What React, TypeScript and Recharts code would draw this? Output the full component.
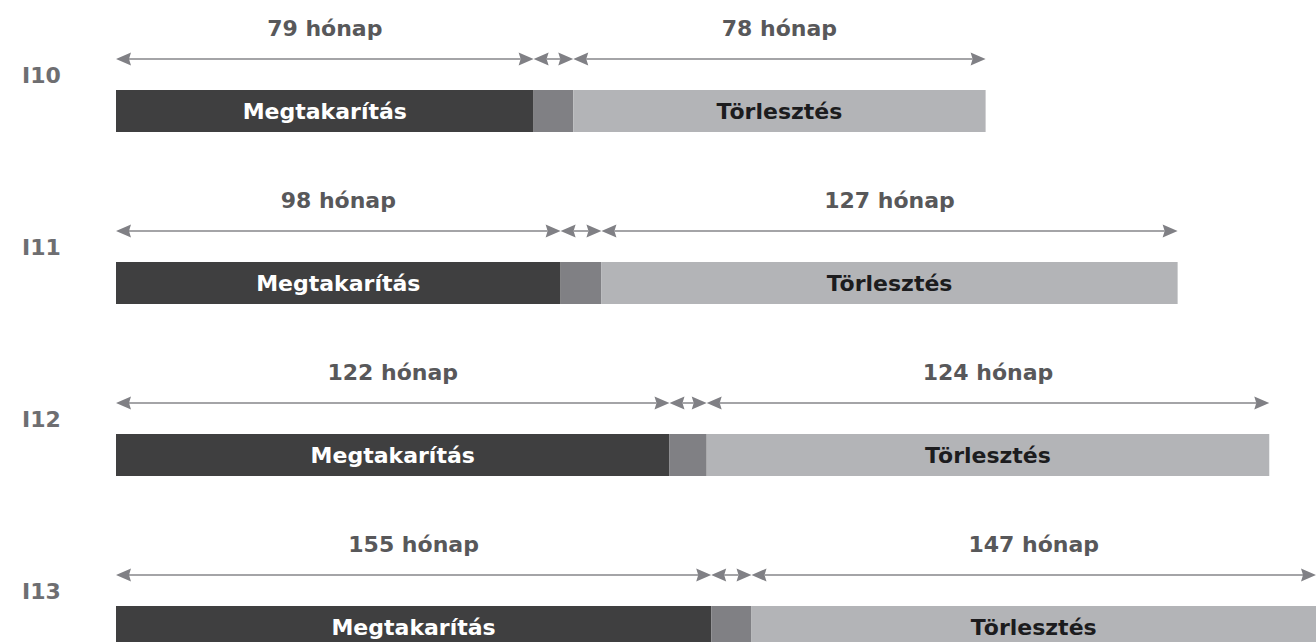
import { BarChart, Bar, XAxis, YAxis } from 'recharts';

const rows = ['I10', 'I11', 'I12', 'I13'];
const savingMonths = [79, 98, 122, 155];
const gapMonths = [7.5, 9, 8.2, 10.5];
const repayMonths = [78, 127, 124, 147];
// each row is drawn on its own scale (months shown across the full plot width)
const scaleMax = [227, 264.5, 264.5, 312.5];

const FONT = '"DejaVu Sans", "Noto Sans", sans-serif';
const HEAD = 15;
const HALF = 6.5;

function Segment(props: any) {
  const { x, y, width, height, fill, top, inner, innerColor } = props;
  const ay = y - 31;
  const leftHead = `M${x},${ay} L${x + HEAD},${ay - HALF} L${x + HEAD - 2},${ay} L${x + HEAD},${ay + HALF} Z`;
  const r = x + width;
  const rightHead = `M${r},${ay} L${r - HEAD},${ay - HALF} L${r - HEAD + 2},${ay} L${r - HEAD},${ay + HALF} Z`;
  return (
    <g>
      <rect x={x} y={y} width={width} height={height} fill={fill} />
      <line x1={x + HEAD - 2} x2={r - HEAD + 2} y1={ay} y2={ay} stroke="#a4a4a7" strokeWidth={2} />
      <path d={leftHead} fill="#808085" />
      <path d={rightHead} fill="#808085" />
      {top && (
        <text
          x={x + width / 2}
          y={y - 62}
          textAnchor="middle"
          dominantBaseline="central"
          fontFamily={FONT}
          fontWeight={700}
          fontSize={22}
          fill="#58585a"
        >
          {top}
        </text>
      )}
      {inner && (
        <text
          x={x + width / 2}
          y={y + height / 2}
          textAnchor="middle"
          dominantBaseline="central"
          fontFamily={FONT}
          fontWeight={700}
          fontSize={22}
          fill={innerColor}
        >
          {inner}
        </text>
      )}
    </g>
  );
}

function RowTick(props: any) {
  const { y, payload } = props;
  return (
    <text
      x={22}
      y={y - 36}
      dominantBaseline="central"
      fontFamily={FONT}
      fontWeight={700}
      fontSize={22}
      fill="#6e6e71"
    >
      {payload.value}
    </text>
  );
}

function Row({ i }: { i: number }) {
  const data = [
    { name: rows[i], saving: savingMonths[i], gap: gapMonths[i], repay: repayMonths[i] },
  ];
  return (
    <BarChart
      width={1316}
      height={172}
      data={data}
      layout="vertical"
      margin={{ top: 90, right: 0, bottom: 40, left: 0 }}
      barCategoryGap={0}
    >
      <XAxis type="number" domain={[0, scaleMax[i]]} hide />
      <YAxis
        type="category"
        dataKey="name"
        width={116}
        axisLine={false}
        tickLine={false}
        tick={<RowTick />}
      />
      <Bar
        dataKey="saving"
        stackId="a"
        fill="#3f3f40"
        isAnimationActive={false}
        shape={(p: any) => (
          <Segment {...p} top={`${p.payload.saving} hónap`} inner="Megtakarítás" innerColor="#ffffff" />
        )}
      />
      <Bar
        dataKey="gap"
        stackId="a"
        fill="#808084"
        isAnimationActive={false}
        shape={(p: any) => <Segment {...p} />}
      />
      <Bar
        dataKey="repay"
        stackId="a"
        fill="#b3b4b7"
        isAnimationActive={false}
        shape={(p: any) => (
          <Segment {...p} top={`${p.payload.repay} hónap`} inner="Törlesztés" innerColor="#1c1c1e" />
        )}
      />
    </BarChart>
  );
}

export default function App() {
  return (
    <div
      style={{
        position: 'absolute',
        left: 0,
        top: 0,
        width: 1316,
        height: 642,
        overflow: 'hidden',
        background: '#ffffff',
      }}
    >
      {rows.map((_, i) => (
        <Row key={i} i={i} />
      ))}
    </div>
  );
}
